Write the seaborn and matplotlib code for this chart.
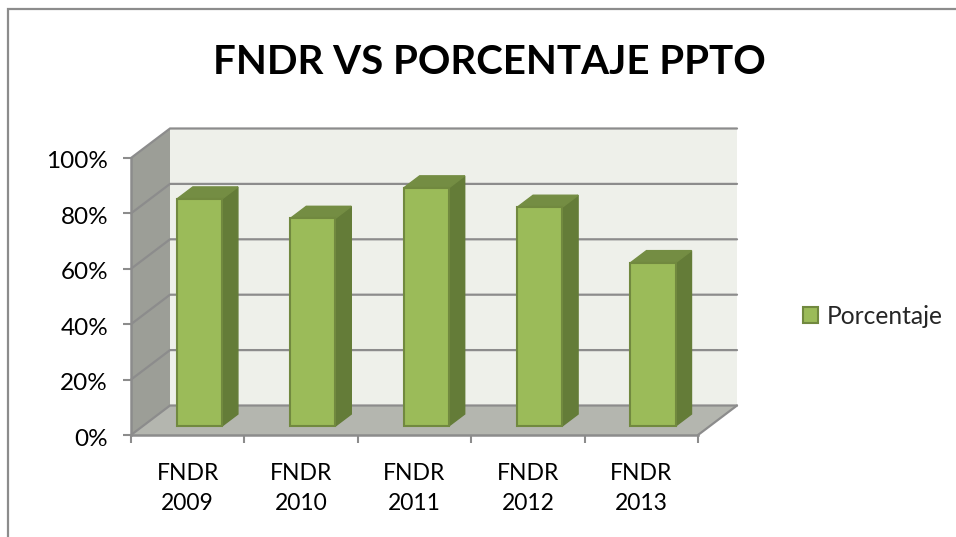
import numpy as np
import pandas as pd
import matplotlib
matplotlib.use("Agg")
import matplotlib.pyplot as plt
from matplotlib.lines import Line2D
from matplotlib.patches import Patch, Polygon
from matplotlib.transforms import Affine2D
import seaborn as sns

categories = ["FNDR\n2009", "FNDR\n2010", "FNDR\n2011", "FNDR\n2012", "FNDR\n2013"]
porcentaje = [82, 75, 86, 79, 59]
y_ticks = [0, 20, 40, 60, 80, 100]
series_name = "Porcentaje"
title = "FNDR VS PORCENTAJE PPTO"

GREEN = "#9BBB59"
EDGE = "#71893F"
SIDE = "#647C38"
TOP = "#748D43"
WALL = "#EEF0EA"
SIDE_WALL = "#9C9E97"
FLOOR = "#B4B6AF"
LINE = "#8C8C8C"

# oblique depth of the 3d box, in data units
DX = 39 / 113.4
DY = 29.5 / 2.77
BAR_START = 0.30
BAR_DEPTH = 0.41
W, H = 956, 537


def project(x, y, d):
    return (x + d * DX, y + d * DY)


sns.set_style("white")
plt.rcParams["font.family"] = ["Lato", "DejaVu Sans"]

fig = plt.figure(figsize=(W / 100, H / 100), dpi=100)
ax = fig.add_axes([131 / W, 1 - 435 / H, 567 / W, 277 / H])
ax.patch.set_alpha(0)

df = pd.DataFrame({"cat": categories, "val": porcentaje})
sns.barplot(data=df, x="cat", y="val", color=GREEN, saturation=1, width=0.397,
            edgecolor=EDGE, linewidth=1.5, zorder=4, ax=ax)
ax.set_xlim(-0.5, len(categories) - 0.5)
ax.set_ylim(0, 100)

x0, x1 = ax.get_xlim()


def box_face(points, color, zorder, edge="none"):
    ax.add_patch(Polygon(points, closed=True, facecolor=color, edgecolor=edge,
                         linewidth=1, zorder=zorder, clip_on=False))


# walls and floor
box_face([project(x0, 0, 1), project(x1, 0, 1), project(x1, 100, 1), project(x0, 100, 1)], WALL, 1)
box_face([project(x0, 0, 0), project(x0, 0, 1), project(x0, 100, 1), project(x0, 100, 0)], SIDE_WALL, 1)
box_face([project(x0, 0, 0), project(x1, 0, 0), project(x1, 0, 1), project(x0, 0, 1)], FLOOR, 1)

for v in y_ticks:
    a, b, c = project(x0, v, 0), project(x0, v, 1), project(x1, v, 1)
    ax.plot([a[0], b[0], c[0]], [a[1], b[1], c[1]], color=LINE, lw=1.6, zorder=2,
            clip_on=False, solid_joinstyle="miter")
a, b = project(x1, 0, 0), project(x1, 0, 1)
ax.plot([a[0], b[0]], [a[1], b[1]], color=LINE, lw=1.6, zorder=2, clip_on=False)

# move the seaborn bars into the box, then add their side and top
for bar in list(ax.patches):
    if not isinstance(bar, matplotlib.patches.Rectangle):
        continue
    left = bar.get_x() + BAR_START * DX
    base = BAR_START * DY
    bar.set_x(left)
    bar.set_y(base)
    bar.set_clip_on(False)
    right = left + bar.get_width()
    top = base + bar.get_height()
    d = BAR_DEPTH
    box_face([(right, base), project(right, base, d), project(right, top, d), (right, top)], SIDE, 3, SIDE)
    box_face([(left, top), (right, top), project(right, top, d), project(left, top, d)], TOP, 3, TOP)

# axes
for name in ["top", "right"]:
    ax.spines[name].set_visible(False)
for name in ["left", "bottom"]:
    ax.spines[name].set_visible(True)
    ax.spines[name].set_color(LINE)
    ax.spines[name].set_linewidth(1.8)
    ax.spines[name].set_zorder(2.5)

ax.set_xlabel("")
ax.set_ylabel("")
ax.set_yticks(y_ticks, [f"{v}%" for v in y_ticks])
ax.set_xticks(range(len(categories)), categories)
ax.set_xticks(np.arange(x0, x1 + 0.5), minor=True)
ax.tick_params(axis="y", left=True, length=5.5, width=1.5, color=LINE, pad=11,
               labelsize=17.5, labelcolor="black")
ax.tick_params(axis="x", which="major", bottom=False, length=0, pad=20,
               labelsize=16.5, labelcolor="black")
ax.tick_params(axis="x", which="minor", bottom=True, length=5.5, width=1.5, color=LINE)
for lab in ax.get_xticklabels():
    lab.set_linespacing(1.55)
for lab in ax.get_yticklabels():
    lab.set_transform(lab.get_transform() + Affine2D().translate(0, -2))

fig.text(489 / W, 1 - 62 / H, title, ha="center", va="center",
         fontsize=29, fontweight="bold", color="black")

ax.legend(handles=[Patch(facecolor=GREEN, edgecolor=EDGE, linewidth=1.5, label=series_name)],
          loc="center left", bbox_to_anchor=(803 / W, 1 - 316 / H), bbox_transform=fig.transFigure,
          frameon=False, fontsize=17.7, handlelength=0.62, handleheight=0.62,
          handletextpad=0.33, borderpad=0, borderaxespad=0)

# outer chart frame, runs off the right and bottom of the picture
fig.add_artist(Line2D([8 / W, 8 / W, 1], [0, 1 - 9 / H, 1 - 9 / H], color=LINE, lw=1.6,
                      solid_joinstyle="miter"))

fig.savefig("out.png", dpi=100)
